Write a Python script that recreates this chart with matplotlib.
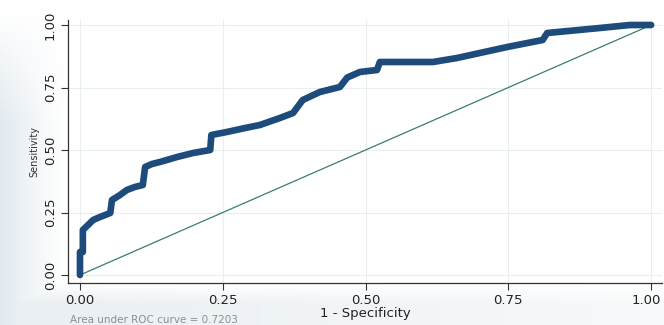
import numpy as np
import matplotlib.pyplot as plt
import matplotlib.transforms as mtransforms

# ROC curve vertices (1 - specificity, sensitivity)
fpr = [0.000, 0.000, 0.005, 0.005, 0.014, 0.023, 0.035, 0.053, 0.056, 0.070,
       0.082, 0.096, 0.110, 0.114, 0.126, 0.140, 0.170, 0.198, 0.228, 0.230,
       0.257, 0.289, 0.315, 0.350, 0.373, 0.390, 0.420, 0.455, 0.468, 0.490,
       0.520, 0.525, 0.618, 0.660, 0.700, 0.748, 0.810, 0.818, 0.910, 0.963,
       1.000]
tpr = [0.000, 0.092, 0.092, 0.180, 0.200, 0.220, 0.232, 0.248, 0.300, 0.320,
       0.340, 0.352, 0.360, 0.432, 0.444, 0.452, 0.472, 0.488, 0.500, 0.560,
       0.572, 0.588, 0.600, 0.628, 0.648, 0.700, 0.732, 0.752, 0.790, 0.812,
       0.820, 0.852, 0.852, 0.868, 0.888, 0.912, 0.940, 0.968, 0.988, 1.000,
       1.000]
auc = 0.7203
ticks = [0.0, 0.25, 0.5, 0.75, 1.0]
tick_labels = ["0.00", "0.25", "0.50", "0.75", "1.00"]

W, H = 664, 325
fig = plt.figure(figsize=(W / 100, H / 100), dpi=100)
fig.patch.set_facecolor("white")

# soft grey-blue shading along the left and bottom edges
bg = fig.add_axes([0, 0, 1, 1], zorder=-10)
xx, yy = np.meshgrid(np.arange(W), np.arange(H))
left = np.clip(1 - xx / 65.0, 0, 1) ** 1.2 * np.clip((yy - 10) / 110.0, 0, 1)
bottom = np.clip((yy - 283) / 20.0, 0, 1) * np.clip(1 - xx / 1000.0, 0.3, 1) * 0.75
w = np.clip(np.maximum(left, bottom), 0, 1) * 0.8
base = np.array([218, 228, 235]) / 255.0
img = 1 - w[..., None] * (1 - base)
bg.imshow(img, aspect="auto", extent=[0, 1, 0, 1], origin="upper")
bg.axis("off")

ax = fig.add_axes([68 / W, 1 - 283 / H, 594 / W, 263 / H])
ax.set_facecolor("white")
ax.set_xlim(-0.021, 1.019)
ax.set_ylim(-0.032, 1.02)

ax.plot([0, 1], [0, 1], color="#3a8060", lw=0.9, zorder=2)
ax.plot(fpr, tpr, color="#1d4c7c", lw=4.8, solid_joinstyle="round",
        solid_capstyle="round", zorder=3)

ax.set_xticks(ticks)
ax.set_yticks(ticks)
ax.set_xticklabels(tick_labels, fontsize=9.5, color="#222222")
ax.set_yticklabels(tick_labels, fontsize=9.5, color="#222222", rotation=90,
                   va="center")
ax.tick_params(direction="out", length=5, width=0.8, color="#333333", pad=3)
ax.grid(True, color="#e9eef1", lw=0.8)
ax.set_axisbelow(True)

# nudge the last x label so it stays inside the figure
last = ax.get_xticklabels()[-1]
last.set_transform(last.get_transform() +
                   mtransforms.ScaledTranslation(-5 / 100, 0, fig.dpi_scale_trans))

for side in ("top", "right"):
    ax.spines[side].set_visible(False)
for side in ("left", "bottom"):
    ax.spines[side].set_color("#333333")
    ax.spines[side].set_linewidth(0.9)

ax.set_xlabel("1 - Specificity", fontsize=9.5, color="#222222", labelpad=0)
ax.set_ylabel("Sensitivity", fontsize=7, color="#333333", labelpad=3)

fig.text(70 / W, 1 - 315 / H, "Area under ROC curve = %.4f" % auc,
         fontsize=7.5, color="#8a8f94", ha="left", va="top")

fig.savefig("out.png", dpi=100)
